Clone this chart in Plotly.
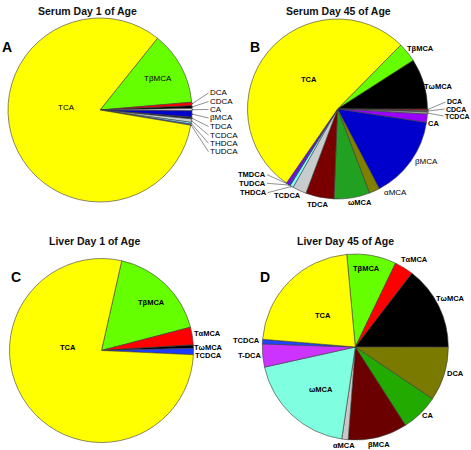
import math
import plotly.graph_objects as go

W, H = 471, 450

# ---------------- data (percent of total bile acids) ----------------
A_labels = ["TβMCA", "DCA", "CDCA", "CA", "βMCA", "TDCA", "TCDCA", "THDCA", "TUDCA", "TCA"]
A_values = [12.9, 0.6, 0.5, 0.4, 1.1, 0.3, 0.6, 0.3, 0.2, 83.1]
A_colors = ["#66FF00", "#FF0000", "#000000", "#E6E6E6", "#0000CC", "#202020",
            "#C8D0D0", "#80FFFF", "#6060FF", "#FFFF00"]

B_labels = ["TβMCA", "TωMCA", "DCA", "CDCA", "TCDCA", "CA", "βMCA", "αMCA", "ωMCA",
            "TDCA", "TCDCA", "THDCA", "TUDCA", "TMDCA", "TCA"]
B_values = [3.5, 9.1, 0.2, 0.3, 0.4, 1.5, 14.9, 1.9, 6.4, 5.1, 2.5, 0.6, 0.3, 0.5, 52.8]
B_colors = ["#66FF00", "#000000", "#FF0000", "#555555", "#A0A0A0", "#9900FF", "#0000CC",
            "#7F7F00", "#22A022", "#7A0000", "#C8CCCC", "#80FFFF", "#3333FF", "#8000FF",
            "#FFFF00"]

C_labels = ["TβMCA", "TαMCA", "TωMCA", "TCDCA", "TCA"]
C_values = [17.4, 3.1, 0.6, 1.1, 77.8]
C_colors = ["#66FF00", "#FF0000", "#000000", "#1E3CFF", "#FFFF00"]

D_labels = ["TβMCA", "TαMCA", "TωMCA", "DCA", "CA", "βMCA", "αMCA", "ωMCA", "T-DCA",
            "TCDCA", "TCA"]
D_values = [8.6, 3.3, 14.6, 9.4, 6.5, 10.3, 1.1, 19.2, 4.0, 0.8, 22.2]
D_colors = ["#66FF00", "#FF0000", "#000000", "#7A7A00", "#22AA00", "#6B0000", "#C8C8C8",
            "#7FFFDF", "#CC33FF", "#2244FF", "#FFFF00"]

FONT = "Arial, 'Liberation Sans', sans-serif"

# (label index, text x, text y, arrow?, xanchor, bold, size)
panels = [
    dict(letter="A", title="Serum Day 1 of Age", labels=A_labels, values=A_values,
         colors=A_colors, rotation=38.7, cx=100, cy=110, r=92,
         title_xy=(87.5, 11), letter_xy=(7, 47),
         text=[(0, 158, 78.5, False, "center", False, 8), (9, 66.7, 107.5, False, "center", False, 8),
               (1, 208.5, 93, True, "left", False, 8), (2, 208.5, 101.5, True, "left", False, 8),
               (3, 208.5, 109.5, True, "left", False, 8), (4, 208.5, 118, True, "left", False, 8),
               (5, 208.5, 126.5, True, "left", False, 8), (6, 208.5, 135, True, "left", False, 8),
               (7, 208.5, 143.3, True, "left", False, 8), (8, 208.5, 151.7, True, "left", False, 8)]),
    dict(letter="B", title="Serum Day 45 of Age", labels=B_labels, values=B_values,
         colors=B_colors, rotation=44.7, cx=337.5, cy=109, r=90,
         title_xy=(338.3, 11), letter_xy=(255, 47),
         text=[(14, 309.3, 79.5, False, "center", True, 7.5), (0, 420, 48.5, False, "center", True, 7.5),
               (1, 438.5, 86, False, "center", True, 7.5),
               (2, 445.5, 102, True, "left", True, 7), (3, 444.5, 109, True, "left", True, 7),
               (4, 443.5, 116, True, "left", True, 7),
               (5, 433.5, 123.5, False, "center", True, 7.5),
               (6, 426.7, 161, False, "center", False, 8),
               (7, 395, 192.7, False, "center", False, 8),
               (8, 360, 202.3, False, "center", True, 7.5),
               (9, 317.3, 204, False, "center", True, 7.5),
               (10, 287.3, 195, False, "center", True, 7.5),
               (13, 267, 174.7, True, "right", True, 7.5), (12, 267, 183.3, True, "right", True, 7.5),
               (11, 267.5, 192.7, True, "right", True, 7.5)]),
    dict(letter="C", title="Liver Day 1 of Age", labels=C_labels, values=C_values,
         colors=C_colors, rotation=12.7, cx=101.5, cy=350.5, r=92,
         title_xy=(94.3, 241), letter_xy=(16, 277),
         text=[(4, 68.3, 347.3, False, "center", True, 7.5), (0, 151.7, 302.7, False, "center", True, 7.5),
               (1, 207.5, 333.3, False, "center", True, 7.5), (2, 208.5, 347.7, False, "center", True, 7.5),
               (3, 208.5, 355, False, "center", True, 7.5)]),
    dict(letter="D", title="Liver Day 45 of Age", labels=D_labels, values=D_values,
         colors=D_colors, rotation=-5.3, cx=355.3, cy=347, r=93,
         title_xy=(345.7, 241), letter_xy=(265, 277),
         text=[(10, 322.7, 315, False, "center", True, 7.5), (0, 366, 268.3, False, "center", True, 7.5),
               (1, 414, 259.3, False, "center", True, 7.5), (2, 450, 298.3, False, "center", True, 7.5),
               (3, 455, 373.3, False, "center", True, 7.5), (4, 427.7, 415.7, False, "center", True, 7.5),
               (5, 379.3, 444.3, False, "center", True, 7.5), (6, 344, 445.7, False, "center", True, 7.5),
               (7, 320.7, 389, False, "center", True, 7.5), (8, 249, 355.7, False, "center", True, 7.5),
               (9, 246, 340.7, False, "center", True, 7.5)]),
]


def edge_point(p, i):
    """Point on the rim of the pie at the middle of slice i (from data + rotation)."""
    vals = p["values"]
    tot = float(sum(vals))
    start = p["rotation"] + 360.0 * sum(vals[:i]) / tot
    mid = math.radians(start + 180.0 * vals[i] / tot)  # clockwise from 12 o'clock
    return p["cx"] + p["r"] * math.sin(mid), p["cy"] - p["r"] * math.cos(mid)


fig = go.Figure()
annotations = []
for p in panels:
    cx, cy, r = p["cx"], p["cy"], p["r"]
    fig.add_trace(go.Pie(
        values=p["values"],
        text=p["labels"],
        textinfo="none",
        hoverinfo="text+percent",
        sort=False,
        direction="clockwise",
        rotation=p["rotation"],
        marker=dict(colors=p["colors"], line=dict(color="#3a3a3a", width=0.6)),
        domain=dict(x=[(cx - r) / W, (cx + r) / W], y=[1 - (cy + r) / H, 1 - (cy - r) / H]),
        showlegend=False,
    ))
    tx, ty = p["title_xy"]
    annotations.append(dict(text="<b>%s</b>" % p["title"], x=tx / W, y=1 - ty / H,
                            xref="paper", yref="paper", showarrow=False,
                            xanchor="center", yanchor="middle",
                            font=dict(family=FONT, size=10.5, color="#111")))
    lx, ly = p["letter_xy"]
    annotations.append(dict(text="<b>%s</b>" % p["letter"], x=lx / W, y=1 - ly / H,
                            xref="paper", yref="paper", showarrow=False,
                            xanchor="center", yanchor="middle",
                            font=dict(family=FONT, size=14, color="#000")))
    for (i, x, y, arrow, anchor, bold, size) in p["text"]:
        label = p["labels"][i]
        txt = "<b>%s</b>" % label if bold else label
        f = dict(family=FONT, size=size, color="#000")
        if arrow:
            hx, hy = edge_point(p, i)
            annotations.append(dict(text=txt, x=hx / W, y=1 - hy / H, xref="paper", yref="paper",
                                    showarrow=True, ax=x - hx, ay=y - hy, xanchor=anchor,
                                    arrowhead=1, arrowsize=0.6, arrowwidth=0.6,
                                    arrowcolor="#444", standoff=0, font=f,
                                    borderpad=0))
        else:
            annotations.append(dict(text=txt, x=x / W, y=1 - y / H, xref="paper", yref="paper",
                                    showarrow=False, xanchor=anchor, yanchor="middle",
                                    font=f, borderpad=0))

fig.update_layout(
    width=W, height=H,
    margin=dict(l=0, r=0, t=0, b=0),
    paper_bgcolor="white", plot_bgcolor="white",
    annotations=annotations,
)
fig.write_html("out.html", config={"displayModeBar": False},
               post_script="document.body.style.margin='0px';document.body.style.overflow='hidden';")
